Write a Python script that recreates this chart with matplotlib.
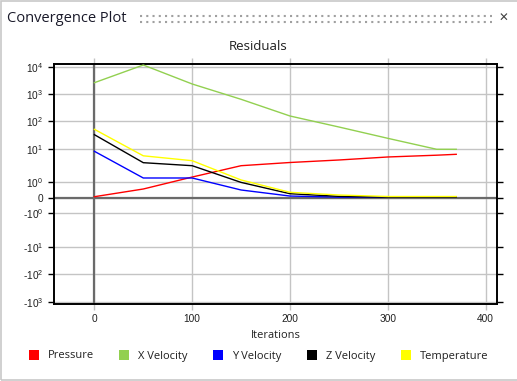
import matplotlib
matplotlib.use("Agg")
import matplotlib.pyplot as plt
import numpy as np
from matplotlib.lines import Line2D
from matplotlib.patches import Rectangle

# ---- residual history -----------------------------------------------------
ITERS = [0, 50, 100, 150, 200, 250, 300, 350, 370]
PRESSURE = [0.077, 0.574, 1.44, 3.12, 3.88, 4.6, 5.65, 6.38, 6.78]
X_VEL = [2650, 11840, 2373, 649, 158, 62.3, 23.9, 9.54, 9.54]
Y_VEL = [8.32, 1.35, 1.35, 0.51, 0.12, 0.05, 0.05, 0.05, 0.05]
Z_VEL = [32.5, 3.83, 3.12, 1.0, 0.27, 0.1, 0.05, 0.05, 0.05]
TEMP = [51.2, 6.12, 4.39, 1.18, 0.361, 0.187, 0.09, 0.09, 0.09]

NAMES = ["Pressure", "X Velocity", "Y Velocity", "Z Velocity", "Temperature"]
COLORS = ["#ff0000", "#92d050", "#0000ff", "#000000", "#ffff00"]

YTICKS = [1e4, 1e3, 1e2, 1e1, 1, 0, -1, -1e1, -1e2, -1e3]
YLABELS = ["10$^4$", "10$^3$", "10$^2$", "10$^1$", "10$^0$", "0",
           "-10$^0$", "-10$^1$", "-10$^2$", "-10$^3$"]
XTICKS = [0, 100, 200, 300, 400]

UI_FONT = "Open Sans"
TXT = "#202020"
GRID = "#c4c4c4"

plt.rcParams["mathtext.default"] = "regular"


# the window's y axis: linear inside |y|<=1, a stretched first decade,
# then one unit per decade
def fwd(y):
    y = np.asarray(y, dtype=float)
    a = np.abs(y)
    lg = np.log10(np.where(a > 0, a, 1.0))
    out = np.where(a <= 1, 0.570 * a,
                   np.where(a <= 10, 0.570 + 1.2425 * lg, 0.8125 + lg))
    return np.sign(y) * out


def inv(u):
    u = np.asarray(u, dtype=float)
    a = np.clip(np.abs(u), 0, 12)
    out = np.where(a <= 0.570, a / 0.570,
                   np.where(a <= 1.8125, 10 ** ((a - 0.570) / 1.2425),
                            10 ** (a - 0.8125)))
    return np.sign(u) * out


fig = plt.figure(figsize=(5.17, 3.81), dpi=100)
fig.patch.set_facecolor("white")

# window chrome
fig.add_artist(Rectangle((0.001, 0.003), 1.2, 0.995, transform=fig.transFigure,
                         fill=False, edgecolor="#c8c8c8", lw=1.2))
fig.text(7 / 517, 1 - 19 / 381, "Convergence Plot", family=UI_FONT,
         fontsize=10.5, color="#1a1a2a", va="center", ha="left")
for yy in (15.7, 21.7):
    fig.add_artist(Line2D([140 / 517, 492 / 517], [1 - yy / 381] * 2,
                          transform=fig.transFigure, color="#a0a0a0",
                          lw=1.5, dashes=(1, 2)))
fig.text(503 / 517, 1 - 18 / 381, "\u2715", family="DejaVu Sans",
         fontsize=8.5, color="#404040", va="center", ha="center")
fig.text(258 / 517, 1 - 47 / 381, "Residuals", family=UI_FONT,
         fontsize=9.5, color=TXT, va="center", ha="center")

ax = fig.add_axes([54.3 / 517, 1 - 304 / 381, 443 / 517, 239.7 / 381])
ax.set_yscale("function", functions=(fwd, inv))

for vals, name, c in zip([PRESSURE, X_VEL, Y_VEL, Z_VEL, TEMP], NAMES, COLORS):
    ax.plot(ITERS, vals, color=c, lw=1.0, label=name, zorder=3)

ax.axhline(0, color="#6a6a6a", lw=1.6, zorder=2)
ax.axvline(0, color="#6a6a6a", lw=1.6, zorder=2)

ax.set_xlim(-41, 412)
ax.set_ylim(-1225, 12570)
ax.set_xticks(XTICKS)
ax.set_yticks(YTICKS)
ax.set_yticklabels(YLABELS)
ax.yaxis.set_minor_locator(matplotlib.ticker.NullLocator())
ax.grid(True, color=GRID, lw=1.0, zorder=0)

ax.tick_params(axis="x", direction="out", length=4, width=1, color=GRID,
               top=True, labelsize=7.3, labelcolor=TXT, pad=3.5)
ax.tick_params(axis="y", direction="out", length=4, width=1, color="black",
               right=True, labelsize=7.3, labelcolor=TXT, pad=4)
for lab in ax.get_xticklabels() + ax.get_yticklabels():
    lab.set_family("Liberation Sans")
for sp in ax.spines.values():
    sp.set_linewidth(1.4)

ax.set_xlabel("Iterations", family=UI_FONT, fontsize=7.9, color=TXT,
              labelpad=4)

handles = [Line2D([], [], ls="", marker="s", markersize=7.5, color=c,
                  markeredgewidth=0) for c in COLORS]
fig.legend(handles, NAMES, loc="center", bbox_to_anchor=(258 / 517, 1 - 356 / 381),
           ncol=5, frameon=False, handlelength=1.0, handletextpad=0.75,
           columnspacing=2.25, prop={"family": UI_FONT, "size": 8.0},
           labelcolor=TXT)

fig.savefig("out.png", dpi=100)
